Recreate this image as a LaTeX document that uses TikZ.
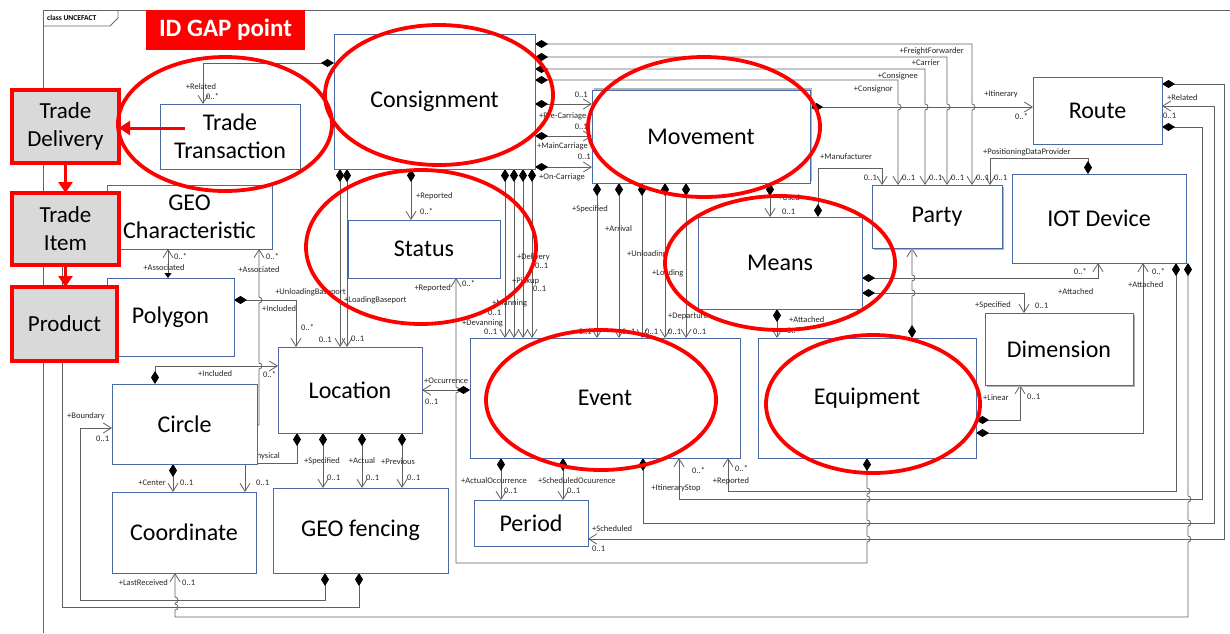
\documentclass[tikz,border=0pt]{standalone}
\usepackage{fontspec}
\setmainfont{Carlito}
\usetikzlibrary{arrows.meta,shadows}
\pgfdeclarelayer{background}
\pgfsetlayers{background,main}
\definecolor{boxblue}{HTML}{4A6AA5}
\definecolor{wire}{HTML}{606060}
\definecolor{annored}{HTML}{FF0000}
\definecolor{fillgray}{HTML}{D9D9D9}
% class box from its corners: style, name, x1, y1, x2, y2, text
\newcommand\umlbox[7]{%
  \node[#1, minimum width={#5-#3}, minimum height={#6-#4}] (#2) at ({(#3+#5)/2},{(#4+#6)/2}) {#7};}
\tikzset{
  cls/.style={draw=boxblue, line width=0.9pt, fill=white, inner sep=0pt, outer sep=0pt,
    align=center, font=\fontsize{24}{28}\selectfont},
  tgap/.style={draw=annored, line width=3.5pt, fill=fillgray, inner sep=0pt, outer sep=0pt,
    align=center, font=\fontsize{23}{28}\selectfont},
  gapbox/.style={fill=annored, draw=none, inner sep=0pt, outer sep=0pt, text=white,
    font=\fontsize{25}{28}\selectfont\bfseries},
  shadowdown/.style={drop shadow={shadow xshift=1.8pt,shadow yshift=-1.8pt,fill=black!30,opacity=1}},
  shadowup/.style={drop shadow={shadow xshift=1.8pt,shadow yshift=1.8pt,fill=black!30,opacity=1}},
  lbl/.style={inner sep=0pt, font=\fontsize{8.5}{9}\selectfont, text=black!85},
  framec/.style={draw=black!60, line width=0.8pt},
  wireline/.style={draw=wire, line width=0.8pt},
  dia/.style={wireline, {Diamond[length=13pt,width=8pt,color=black]}-{Straight Barb[length=8pt,width=10pt]}},
  dia0/.style={wireline, {Diamond[length=13pt,width=8pt,color=black]}-},
  nav/.style={wireline, -{Straight Barb[length=8pt,width=10pt]}},
  tri/.style={wireline, {Triangle[length=5pt,width=7pt,color=black]}-{Straight Barb[length=8pt,width=10pt]}},
  ring/.style={draw=annored, line width=3.8pt},
  redarrow/.style={draw=annored, line width=3pt, -{Triangle[length=11pt,width=14pt]}},
}
\begin{document}
\begin{tikzpicture}[x=1pt,y=-1pt]
\useasboundingbox (0,0) rectangle (1230,633);

% ---------- classes ----------
\umlbox{cls}{ttx}{160}{104}{300}{169}{Trade\\Transaction}
\umlbox{cls}{cons}{334}{34}{535}{169}{Consignment}
\umlbox{cls,shadowup}{move}{592}{90}{810}{183}{Movement}
\umlbox{cls}{route}{1033}{77}{1162}{144}{Route}
\umlbox{cls,shadowdown}{party}{872}{185}{1002}{248}{Party}
\umlbox{cls}{iot}{1012}{174}{1186}{263}{IOT Device}
\umlbox{cls}{geo}{107}{185}{272}{249}{GEO\\Characteristic}
\umlbox{cls}{status}{348}{220}{500}{278}{Status}
\umlbox{cls}{means}{698}{217}{862}{309}{Means}
\umlbox{cls}{poly}{107}{278}{234}{356}{Polygon}
\umlbox{cls}{loc}{278}{347}{422}{433}{Location}
\umlbox{cls}{circ}{112}{384}{257}{464}{Circle}
\umlbox{cls}{event}{470}{338}{740}{458}{Event}
\umlbox{cls}{equip}{758}{338}{976}{458}{Equipment}
\umlbox{cls,shadowdown}{dim}{985}{313}{1133}{385}{Dimension}
\umlbox{cls}{coord}{112}{492}{256}{573}{Coordinate}
\umlbox{cls}{fence}{273}{488}{448}{573}{GEO fencing}
\umlbox{cls}{period}{474}{500}{588}{546}{Period}

% ---------- highlighted gap items ----------
\umlbox{gapbox}{gap}{146}{10}{305}{50}{ID GAP point}
\umlbox{tgap}{tdel}{12}{90}{119}{163}{Trade\\Delivery}
\umlbox{tgap}{titem}{12}{193}{119}{265}{Trade\\Item}
\umlbox{tgap}{prod}{12}{287}{117}{361}{Product}

% ---------- frame and associations (behind the classes) ----------
\begin{pgfonlayer}{background}
\draw[framec] (43,633) -- (43,10) -- (1230,10);
\draw[framec] (43,26) -- (110,26) -- (118,18) -- (118,10);
\node[anchor=west, inner sep=0pt, font=\fontsize{7.5}{8}\selectfont\bfseries] (tab) at (47,18) {class UNCEFACT};

% Consignment -> Trade Transaction
\draw[dia] (cons.west |- 0,63) -| (ttx.north -| 203,0);
% Consignment -> Party roles
\draw[dia] (cons.east |- 0,44) -- (972,44) -- (972,104) arc[start angle=-90,end angle=90,radius=3] -- (party.north -| 972,0);
\draw[dia] (cons.east |- 0,57) -- (947,57) -- (947,104) arc[start angle=-90,end angle=90,radius=3] -- (party.north -| 947,0);
\draw[dia] (cons.east |- 0,69) -- (925,69) -- (925,104) arc[start angle=-90,end angle=90,radius=3] -- (party.north -| 925,0);
\draw[dia] (cons.east |- 0,80) -- (898,80) -- (898,104) arc[start angle=-90,end angle=90,radius=3] -- (party.north -| 898,0);
% Movement -> Route
\draw[dia] (move.east |- 0,107) -- (route.west |- 0,107);
% IOT Device -> Party, Means -> Party
\draw[dia] (iot.north -| 1088,0) -- (1088,158) -| (party.north -| 990,0);
\draw[dia] (means.north -| 818,0) -- (818,168) -| (party.north -| 882,0);
% Consignment -> Movement
\draw[dia] (cons.east |- 0,104) -- (move.west |- 0,104);
\draw[dia] (cons.east |- 0,136) -- (move.west |- 0,136);
\draw[dia] (cons.east |- 0,167) -- (move.west |- 0,167);
% Consignment -> Status
\draw[dia] (cons.south -| 411,0) -- (status.north -| 411,0);
% Consignment -> Location
\draw[dia] (cons.south -| 340,0) -- (loc.north -| 340,0);
\draw[dia] (cons.south -| 347,0) -- (loc.north -| 347,0);
% Polygon -> Location, Polygon -> GEO Characteristic
\draw[dia] (poly.east |- 0,300) -| (loc.north -| 296,0);
\draw[tri] (poly.north -| 168,0) -- (geo.south -| 168,0);
% Circle -> GEO Characteristic
\draw[nav] (circ.east |- 0,425) -- (259,425) -- (259,369) arc[start angle=90,end angle=-90,radius=3]
  -- (259,303) arc[start angle=90,end angle=-90,radius=3] -- (geo.south -| 259,0);
% Circle -> Location
\draw[dia] (circ.north -| 155,0) -- (155,366) -- (loc.west |- 0,366);
% GEO fencing -> Circle (boundary)
\draw[dia] (fence.south -| 325,0) -- (325,600) -- (80,600) -- (80,428) -- (circ.west |- 0,428);
% GEO fencing -> Trade Item
\draw[dia0] (fence.south -| 359,0) -- (359,607) -- (62,607) -- (titem.south -| 62,0);
% Location -> Coordinate (physical)
\node[lbl,anchor=east] (l-phy) at (280,456) {+Physical};
\draw[dia] (loc.south -| 297,0) -- (297,463) -- (245,463) -- (coord.north -| 245,0);
% Location -> GEO fencing
\draw[dia] (loc.south -| 323,0) -- (fence.north -| 323,0);
\draw[dia] (loc.south -| 362,0) -- (fence.north -| 362,0);
\draw[dia] (loc.south -| 402,0) -- (fence.north -| 402,0);
% Circle -> Coordinate
\draw[dia] (circ.south -| 173,0) -- (coord.north -| 173,0);
% IOT Device -> Coordinate (last received)
\draw[dia] (iot.south -| 1188,0) -- (1188,496) arc[start angle=-90,end angle=90,radius=3]
  -- (1188,520) arc[start angle=-90,end angle=90,radius=3]
  -- (1188,536) arc[start angle=-90,end angle=90,radius=3]
  -- (1188,617) -- (175,617) -- (175,610) arc[start angle=90,end angle=-90,radius=3]
  -- (175,603) arc[start angle=90,end angle=-90,radius=3] -- (coord.south -| 175,0);
% IOT Device -> Event
\draw[dia] (iot.south -| 1176,0) -- (1176,491) -| (event.south -| 728,0);
% Route -> Event
\draw[dia] (route.east |- 0,127) -- (1202,127) -- (1202,499) -| (event.south -| 679,0);
% Event -> Route
\draw[dia] (event.south -| 643,0) -- (643,523) -- (1214,523) -- (1214,106) -- (route.east |- 0,106);
% Route -> Period
\draw[dia] (route.east |- 0,84) -- (1224,84) -- (1224,539) -- (period.east |- 0,539);
% Equipment -> Status
\draw[dia] (equip.south -| 867,0) -- (867,488) arc[start angle=-90,end angle=90,radius=3]
  -- (867,496) arc[start angle=-90,end angle=90,radius=3]
  -- (867,520) arc[start angle=-90,end angle=90,radius=3]
  -- (867,536) arc[start angle=-90,end angle=90,radius=3]
  -- (867,563) -- (456,563) -- (456,393) arc[start angle=90,end angle=-90,radius=3]
  -- (status.south -| 456,0);
% Event -> Location
\draw[dia] (event.west |- 0,390) -- (loc.east |- 0,390);
% Consignment -> Event
\draw[dia] (cons.south -| 505,0) -- (event.north -| 505,0);
\draw[dia] (cons.south -| 514,0) -- (event.north -| 514,0);
\draw[dia] (cons.south -| 523,0) -- (event.north -| 523,0);
\draw[dia] (cons.south -| 532,0) -- (event.north -| 532,0);
% Movement -> Event
\draw[dia] (move.south -| 597,0) -- (event.north -| 597,0);
\draw[dia] (move.south -| 619,0) -- (event.north -| 619,0);
\draw[dia] (move.south -| 642,0) -- (event.north -| 642,0);
\draw[dia] (move.south -| 665,0) -- (event.north -| 665,0);
\draw[dia] (move.south -| 686,0) -- (event.north -| 686,0);
% Movement -> Means, Means -> Equipment
\draw[dia] (move.south -| 770,0) -- (means.north -| 770,0);
\draw[dia] (means.south -| 777,0) -- (equip.north -| 777,0);
% Means -> IOT Device, Means -> Dimension
\draw[dia] (means.east |- 0,278) -- (1098,278) -- (iot.south -| 1098,0);
\draw[dia] (means.east |- 0,293) -- (1024,293) -- (dim.north -| 1024,0);
% Equipment -> Party
\node[lbl,anchor=west] (l-eman) at (917,247) {+Manufacturer};
\draw[dia] (equip.north -| 912,0) -- (912,296) arc[start angle=90,end angle=-90,radius=3]
  -- (912,281) arc[start angle=90,end angle=-90,radius=3] -- (party.south -| 912,0);
% Equipment -> Dimension, Equipment -> IOT Device
\draw[dia] (equip.east |- 0,420) -- (1020,420) -- (dim.south -| 1020,0);
\draw[dia] (equip.east |- 0,433) -- (1143,433) -- (iot.south -| 1143,0);
% Event -> Period
\draw[dia] (event.south -| 501,0) -- (period.north -| 501,0);
\draw[dia] (event.south -| 563,0) -- (period.north -| 563,0);
\end{pgfonlayer}

% ---------- role names and multiplicities ----------
\node[lbl] (l-rel) at (201,87) {+Related};
\node[lbl,anchor=west] (m-rel) at (206,97) {0..*};
\node[lbl,anchor=east] (l-ff) at (964,51) {+FreightForwarder};
\node[lbl,anchor=east] (l-car) at (940,63) {+Carrier};
\node[lbl,anchor=east] (l-cee) at (918,76) {+Consignee};
\node[lbl,anchor=east] (l-cor) at (893,89) {+Consignor};
\node[lbl,anchor=east] (m-man) at (877,178) {0..1};
\node[lbl,anchor=west] (m-cor) at (902,178) {0..1};
\node[lbl,anchor=west] (m-cee) at (929,178) {0..1};
\node[lbl,anchor=west] (m-car) at (951,178) {0..1};
\node[lbl,anchor=west] (m-ff) at (976,178) {0..1};
\node[lbl,anchor=west] (m-pdp) at (994,178) {0..1};
\node[lbl,anchor=west] (l-man) at (820,157) {+Manufacturer};
\node[lbl,anchor=west] (l-pdp) at (983,152) {+PositioningDataProvider};
\node[lbl] (l-iti) at (1001,94) {+Itinerary};
\node[lbl,anchor=west] (m-iti) at (1015,117) {0..*};
\node[lbl,anchor=west] (l-rrel) at (1167,98) {+Related};
\node[lbl,anchor=west] (m-rrel) at (1163,116) {0..1};
\node[lbl,anchor=east] (m-pre) at (588,95) {0..1};
\node[lbl,anchor=west] (l-pre) at (539,116) {+Pre-Carriage};
\node[lbl,anchor=east] (m-main) at (588,127) {0..1};
\node[lbl,anchor=west] (l-main) at (537,146) {+MainCarriage};
\node[lbl,anchor=east] (m-on) at (591,157) {0..1};
\node[lbl,anchor=west] (l-on) at (539,177) {+On-Carriage};
\node[lbl,anchor=west] (l-srep) at (416,196) {+Reported};
\node[lbl,anchor=west] (m-srep) at (420,212) {0..*};
\node[lbl,anchor=east] (l-erep) at (451,288) {+Reported};
\node[lbl,anchor=west] (m-erep) at (462,284) {0..*};
\node[lbl,anchor=east] (l-unl) at (346,292) {+UnloadingBaseport};
\node[lbl,anchor=west] (l-lod) at (344,300) {+LoadingBaseport};
\node[lbl,anchor=east] (m-unl) at (332,340) {0..1};
\node[lbl,anchor=west] (m-lod) at (351,339) {0..1};
\node[lbl,anchor=west] (l-pinc) at (262,309) {+Included};
\node[lbl,anchor=west] (m-pinc) at (301,328) {0..*};
\node[lbl] (l-pas) at (164,268) {+Associated};
\node[lbl,anchor=west] (m-pas) at (174,257) {0..*};
\node[lbl] (l-cas) at (259,270) {+Associated};
\node[lbl,anchor=west] (m-cas) at (266,257) {0..*};
\node[lbl,anchor=west] (l-cinc) at (198,374) {+Included};
\node[lbl,anchor=west] (m-cinc) at (263,375) {0..*};
\node[lbl,anchor=west] (l-bnd) at (67,416) {+Boundary};
\node[lbl,anchor=west] (m-bnd) at (96,439) {0..1};
\node[lbl,anchor=east] (l-cen) at (166,483) {+Center};
\node[lbl,anchor=west] (m-cen) at (180,483) {0..1};
\node[lbl,anchor=west] (m-phy) at (256,483) {0..1};
\node[lbl,anchor=east] (l-last) at (168,583) {+LastReceived};
\node[lbl,anchor=west] (m-last) at (182,583) {0..1};
\node[lbl] (l-spec) at (322,461) {+Specified};
\node[lbl,anchor=west] (m-spec) at (327,478) {0..1};
\node[lbl] (l-act) at (362,461) {+Actual};
\node[lbl,anchor=west] (m-act) at (366,478) {0..1};
\node[lbl] (l-prev) at (398,462) {+Previous};
\node[lbl,anchor=west] (m-prev) at (407,478) {0..1};
\node[lbl,anchor=west] (l-occ) at (424,381) {+Occurrence};
\node[lbl,anchor=west] (m-occ) at (425,402) {0..1};
\node[lbl,anchor=west] (l-del) at (517,257) {+Delivery};
\node[lbl,anchor=west] (m-del) at (535,266) {0..1};
\node[lbl,anchor=west] (l-pick) at (512,281) {+Pickup};
\node[lbl,anchor=west] (m-pick) at (533,289) {0..1};
\node[lbl,anchor=west] (l-man2) at (492,303) {+Manning};
\node[lbl,anchor=west] (m-man2) at (488,313) {0..1};
\node[lbl,anchor=west] (l-dev) at (462,323) {+Devanning};
\node[lbl,anchor=west] (m-dev) at (484,332) {0..1};
\node[lbl] (l-mspec) at (590,209) {+Specified};
\node[lbl,anchor=west] (l-arr) at (605,229) {+Arrival};
\node[lbl,anchor=west] (l-unlo) at (627,254) {+Unloading};
\node[lbl,anchor=west] (l-load) at (652,273) {+Loading};
\node[lbl,anchor=west] (l-dep) at (668,316) {+Departure};
\node[lbl,anchor=east] (m-mspec) at (592,332) {0..1};
\node[lbl,anchor=west] (m-arr) at (622,332) {0..1};
\node[lbl,anchor=west] (m-unlo) at (645,332) {0..1};
\node[lbl,anchor=west] (m-load) at (668,332) {0..1};
\node[lbl,anchor=west] (m-dep) at (693,332) {0..1};
\node[lbl,anchor=west] (l-used) at (778,198) {+Used};
\node[lbl,anchor=west] (m-used) at (782,212) {0..1};
\node[lbl,anchor=west] (l-matt) at (789,320) {+Attached};
\node[lbl,anchor=west] (m-matt) at (787,331) {0..*};
\node[lbl,anchor=east] (m-iatt) at (1087,272) {0..*};
\node[lbl,anchor=west] (l-iatt) at (1058,292) {+Attached};
\node[lbl,anchor=west] (l-dspec) at (975,305) {+Specified};
\node[lbl,anchor=west] (m-dspec) at (1035,306) {0..1};
\node[lbl,anchor=west] (l-lin) at (983,398) {+Linear};
\node[lbl,anchor=west] (m-lin) at (1027,397) {0..1};
\node[lbl,anchor=west] (l-eatt) at (1128,285) {+Attached};
\node[lbl,anchor=west] (m-eatt) at (1152,272) {0..*};
\node[lbl,anchor=west] (l-aocc) at (461,481) {+ActualOccurrence};
\node[lbl,anchor=west] (m-aocc) at (504,491) {0..1};
\node[lbl,anchor=west] (l-socc) at (538,481) {+ScheduledOcuurence};
\node[lbl,anchor=west] (m-socc) at (567,491) {0..1};
\node[lbl,anchor=west] (l-sch) at (592,529) {+Scheduled};
\node[lbl,anchor=west] (m-sch) at (592,549) {0..1};
\node[lbl] (l-istop) at (676,488) {+ItineraryStop};
\node[lbl,anchor=west] (m-istop) at (692,471) {0..*};
\node[lbl] (l-irep) at (731,481) {+Reported};
\node[lbl,anchor=west] (m-irep) at (735,469) {0..*};

% ---------- red annotation arrows ----------
\draw[redarrow] ([xshift=25pt,yshift=8.5pt]ttx.west) -- (tdel.east |- 0,128);
\draw[redarrow] (tdel.south) -- (titem.north);
\draw[redarrow] (titem.south) -- (titem.south |- prod.north);

% ---------- red rings ----------
\draw[ring] (225,124) ellipse[x radius=107,y radius=67];
\draw[ring] (439,95) ellipse[x radius=114,y radius=70];
\draw[ring] (704,127) ellipse[x radius=116,y radius=70];
\draw[ring] (421,247) ellipse[x radius=115,y radius=77];
\draw[ring] (780,263) ellipse[x radius=115,y radius=67];
\draw[ring] (601,400) ellipse[x radius=115,y radius=70];
\draw[ring] (873,404) ellipse[x radius=107,y radius=69];
\end{tikzpicture}
\end{document}
